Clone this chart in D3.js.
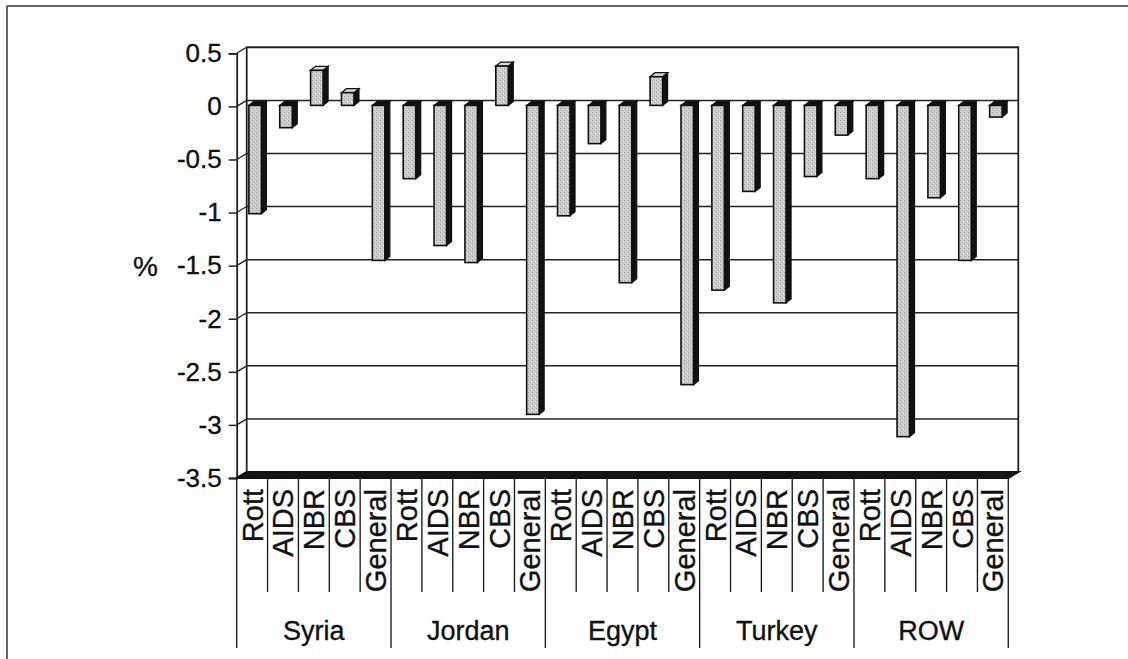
<!DOCTYPE html>
<html>
<head>
<meta charset="utf-8">
<script src="https://cdn.jsdelivr.net/npm/d3@7/dist/d3.min.js"></script>
<style>
  html, body { margin: 0; padding: 0; background: #fff; }
  svg { display: block; }
  text { font-family: "Liberation Sans", Arial, sans-serif; fill: #111; stroke: #111; stroke-width: 0.35px; }
</style>
</head>
<body>
<svg id="chart" width="1128" height="659"></svg>
<script>
// ---- data ----
const countries = ["Syria", "Jordan", "Egypt", "Turkey", "ROW"];
const methods = ["Rott", "AIDS", "NBR", "CBS", "General"];
const syriaValues  = [-1.02, -0.21, 0.33, 0.12, -1.46];
const jordanValues = [-0.69, -1.32, -1.48, 0.37, -2.91];
const egyptValues  = [-1.04, -0.36, -1.67, 0.27, -2.63];
const turkeyValues = [-1.74, -0.81, -1.86, -0.67, -0.28];
const rowValues    = [-0.69, -3.12, -0.87, -1.46, -0.11];
const yTickValues = [0.5, 0, -0.5, -1, -1.5, -2, -2.5, -3, -3.5];
const yAxisLabel = "%";

const seriesByCountry = [syriaValues, jordanValues, egyptValues, turkeyValues, rowValues];
const rows = [];
countries.forEach((c, ci) => methods.forEach((m, mi) => {
  rows.push({ key: c + "|" + m, country: c, method: m, value: seriesByCountry[ci][mi] });
}));

// ---- layout ----
const svg = d3.select("#chart");
const X0 = 236.7, X1 = 1008.3;
const DX = 10, DY = -6;        // wall depth
const x = d3.scaleBand().domain(rows.map(d => d.key)).range([X0, X1]).padding(0);
const y = d3.scaleLinear().domain([-3.5, 0.5]).range([478, 53.3]);
const step = x.bandwidth();

// texture for bar faces
const defs = svg.append("defs");
const pat = defs.append("pattern").attr("id", "stip").attr("patternUnits", "userSpaceOnUse")
  .attr("width", 4).attr("height", 4);
pat.append("rect").attr("width", 4).attr("height", 4).attr("fill", "#cdcdcd");
pat.append("rect").attr("x", 0).attr("y", 0).attr("width", 1).attr("height", 1).attr("fill", "#9a9a9a");
pat.append("rect").attr("x", 2).attr("y", 2).attr("width", 1).attr("height", 1).attr("fill", "#a8a8a8");
pat.append("rect").attr("x", 3).attr("y", 1).attr("width", 1).attr("height", 1).attr("fill", "#e6e6e6");

// outer frame
svg.append("line").attr("x1", 7).attr("y1", 6).attr("x2", 1128).attr("y2", 6)
  .attr("stroke", "#333").attr("stroke-width", 1.5);
svg.append("line").attr("x1", 7).attr("y1", 6).attr("x2", 7).attr("y2", 659)
  .attr("stroke", "#333").attr("stroke-width", 1.5);

const yTop = y(0.5), yBot = y(-3.5);

// back wall outline
svg.append("path")
  .attr("d", `M${X0 + DX},${yBot + DY} L${X0 + DX},${yTop + DY} L${X1 + DX},${yTop + DY} L${X1 + DX},${yBot + DY}`)
  .attr("fill", "none").attr("stroke", "#222").attr("stroke-width", 1.8);

// gridlines on back wall + left wall diagonals
const grid = svg.append("g");
yTickValues.forEach(t => {
  grid.append("line").attr("x1", X0 + DX).attr("x2", X1 + DX)
    .attr("y1", y(t) + DY).attr("y2", y(t) + DY)
    .attr("stroke", "#222").attr("stroke-width", 1.5);
  grid.append("line").attr("x1", X0).attr("x2", X0 + DX)
    .attr("y1", y(t)).attr("y2", y(t) + DY)
    .attr("stroke", "#222").attr("stroke-width", 1.3);
});

// y axis (front)
const yAxis = d3.axisLeft(y).tickValues(yTickValues).tickSize(8).tickPadding(7)
  .tickFormat(d => String(d));
const gy = svg.append("g").attr("transform", `translate(${X0},0)`).call(yAxis);
gy.select(".domain").attr("stroke", "#222").attr("stroke-width", 1.8);
gy.selectAll(".tick line").attr("stroke", "#222").attr("stroke-width", 1.5);
gy.selectAll(".tick text").attr("font-size", 26).attr("fill", "#111")
  .style("font-family", "'Liberation Sans', Arial, sans-serif");

svg.append("text").attr("x", 145.5).attr("y", 276).attr("text-anchor", "middle")
  .attr("font-size", 28).text(yAxisLabel);

// bars (3D)
const FX = 3, FY = -1, BW = 12.5, BDX = 5, BDY = -4;
const bars = svg.append("g");
rows.forEach(d => {
  const xc = x(d.key) + step / 2 + FX;
  const fx0 = xc - BW / 2, fx1 = xc + BW / 2;
  const y0 = y(0) + FY, yv = y(d.value) + FY;
  const top = Math.min(y0, yv), bot = Math.max(y0, yv);
  const g = bars.append("g");
  g.append("path")
    .attr("d", `M${fx1},${top} L${fx1 + BDX},${top + BDY} L${fx1 + BDX},${bot + BDY} L${fx1},${bot} Z`)
    .attr("fill", "#111").attr("stroke", "#111").attr("stroke-width", 1.2);
  g.append("path")
    .attr("d", `M${fx0},${top} L${fx0 + BDX},${top + BDY} L${fx1 + BDX},${top + BDY} L${fx1},${top} Z`)
    .attr("fill", d.value >= 0 ? "#d8d8d8" : "#111").attr("stroke", "#111").attr("stroke-width", 1.3);
  g.append("rect").attr("x", fx0).attr("y", top).attr("width", BW).attr("height", bot - top)
    .attr("fill", "url(#stip)").attr("stroke", "#111").attr("stroke-width", 1.6);
});

// floor
svg.append("path")
  .attr("d", `M${X0},${yBot} L${X1},${yBot} L${X1 + DX},${yBot + DY} L${X0 + DX},${yBot + DY} Z`)
  .attr("fill", "#141414").attr("stroke", "#111").attr("stroke-width", 2);

// category dividers
const cat = svg.append("g");
d3.range(rows.length + 1).forEach(i => {
  const xx = X0 + i * step;
  cat.append("line").attr("x1", xx).attr("x2", xx).attr("y1", yBot)
    .attr("y2", i % methods.length === 0 ? 648 : 592)
    .attr("stroke", "#222").attr("stroke-width", 1.4);
});

// method labels (rotated)
rows.forEach(d => {
  const cx = x(d.key) + step / 2;
  cat.append("text")
    .attr("transform", `translate(${cx + 10.5},489) rotate(-90)`)
    .attr("text-anchor", "end").attr("font-size", 29).text(d.method);
});

// country labels
countries.forEach((c, ci) => {
  const gx = X0 + (ci * methods.length + methods.length / 2) * step;
  cat.append("text").attr("x", gx).attr("y", 640).attr("text-anchor", "middle")
    .attr("font-size", 27).text(c);
});
</script>
</body>
</html>
